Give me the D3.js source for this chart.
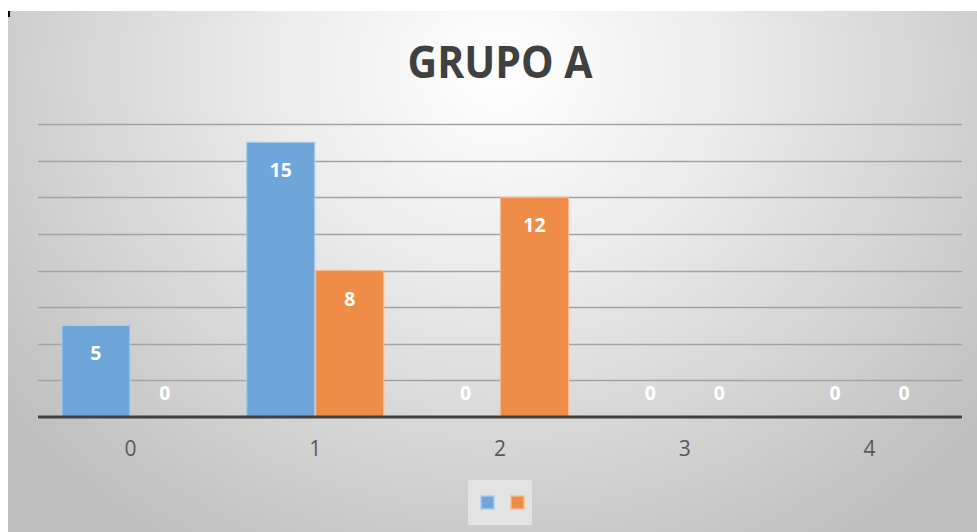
<!DOCTYPE html>
<html>
<head>
<meta charset="utf-8">
<script src="https://cdn.jsdelivr.net/npm/d3@7"></script>
<style>
  html, body { margin: 0; padding: 0; background: #ffffff; }
  svg { display: block; }
</style>
</head>
<body>
<svg id="chart" width="977" height="532"></svg>
<script>
// Chart data
const categories = ["0", "1", "2", "3", "4"];
const seriesNames = ["Serie 1", "Serie 2"];
const series1 = [5, 15, 0, 0, 0];
const series2 = [0, 8, 12, 0, 0];
const yTicks = [2, 4, 6, 8, 10, 12, 14, 16];
const chartTitle = "GRUPO A";

const colors = ["#6ea6da", "#ef8c48"];
const strokes = ["#a9cbeb", "#f5bb93"];

const W = 977, H = 532;
const svg = d3.select("#chart");

// Background panel with a soft radial highlight behind the title
const defs = svg.append("defs");
const grad = defs.append("radialGradient")
  .attr("id", "bg")
  .attr("gradientUnits", "userSpaceOnUse")
  .attr("cx", 500).attr("cy", 70).attr("r", 620)
  .attr("gradientTransform", "translate(500,70) scale(1,0.9) translate(-500,-70)");
grad.append("stop").attr("offset", "0%").attr("stop-color", "#ffffff");
grad.append("stop").attr("offset", "35%").attr("stop-color", "#ececec");
grad.append("stop").attr("offset", "100%").attr("stop-color", "#bfbfbf");

svg.append("rect")
  .attr("x", 8).attr("y", 11)
  .attr("width", W - 8).attr("height", H - 11)
  .attr("fill", "url(#bg)");

svg.append("rect")
  .attr("x", 8).attr("y", 11)
  .attr("width", 2).attr("height", 6)
  .attr("fill", "#000");

const plot = { left: 38, right: 962, top: 124, bottom: 417 };

const x = d3.scaleBand()
  .domain(categories)
  .range([plot.left, plot.right])
  .paddingInner(0.253)
  .paddingOuter(0.1265);

const xSub = d3.scaleBand()
  .domain(d3.range(seriesNames.length))
  .range([0, x.bandwidth()]);

const y = d3.scaleLinear()
  .domain([0, 16])
  .range([plot.bottom, plot.top]);

// Title
svg.append("text")
  .attr("x", 500).attr("y", 78)
  .attr("text-anchor", "middle")
  .attr("font-family", "'Open Sans', sans-serif")
  .attr("font-weight", 700)
  .attr("font-size", 44)
  .attr("textLength", 185)
  .attr("lengthAdjust", "spacingAndGlyphs")
  .attr("fill", "#404040")
  .text(chartTitle);

// Horizontal gridlines
svg.append("g")
  .selectAll("line")
  .data(yTicks)
  .join("line")
  .attr("x1", plot.left).attr("x2", plot.right)
  .attr("y1", d => Math.round(y(d)) + 0.5)
  .attr("y2", d => Math.round(y(d)) + 0.5)
  .attr("stroke", "#a3a3a3")
  .attr("stroke-width", 1.3);

// Bars
const seriesData = [series1, series2];
const groups = svg.append("g")
  .selectAll("g")
  .data(seriesData)
  .join("g");

groups.selectAll("rect")
  .data((vals, si) => vals.map((v, i) => ({ v, i, si })))
  .join("rect")
  .attr("x", d => x(categories[d.i]) + xSub(d.si) + 0.5)
  .attr("y", d => y(d.v))
  .attr("width", xSub.bandwidth() - 1)
  .attr("height", d => y(0) - y(d.v))
  .attr("fill", d => colors[d.si])
  .attr("stroke", d => d.v > 0 ? strokes[d.si] : "none")
  .attr("stroke-width", 1.2);

// Value labels: inside the top of a bar, or just above the axis for zeros
groups.selectAll("text")
  .data((vals, si) => vals.map((v, i) => ({ v, i, si })))
  .join("text")
  .attr("x", d => x(categories[d.i]) + xSub(d.si) + xSub.bandwidth() / 2)
  .attr("y", d => d.v === 0 ? y(0) - 17 : y(d.v) + 35)
  .attr("text-anchor", "middle")
  .attr("font-family", "'Open Sans', sans-serif")
  .attr("font-weight", 700)
  .attr("font-size", 19.5)
  .attr("fill", "#ffffff")
  .text(d => d.v);

// Category axis
const xAxis = svg.append("g")
  .attr("transform", `translate(0,${plot.bottom})`)
  .call(d3.axisBottom(x).tickSize(0));
xAxis.select(".domain")
  .attr("stroke", "#404040")
  .attr("stroke-width", 3)
  .attr("d", `M${plot.left},0H${plot.right}`);
xAxis.selectAll("text")
  .attr("y", 39)
  .attr("dy", 0)
  .attr("font-family", "'Open Sans', sans-serif")
  .attr("font-size", 21)
  .attr("fill", "#595959");

// Legend
const legend = svg.append("g");
legend.append("rect")
  .attr("x", 468).attr("y", 480)
  .attr("width", 64).attr("height", 45)
  .attr("fill", "#e3e3e3");
legend.selectAll("rect.key")
  .data(seriesNames)
  .join("rect")
  .attr("class", "key")
  .attr("x", (d, i) => 481 + i * 30)
  .attr("y", 496)
  .attr("width", 13).attr("height", 13)
  .attr("fill", (d, i) => colors[i])
  .attr("stroke", (d, i) => strokes[i])
  .attr("stroke-width", 1.5);
</script>
</body>
</html>
